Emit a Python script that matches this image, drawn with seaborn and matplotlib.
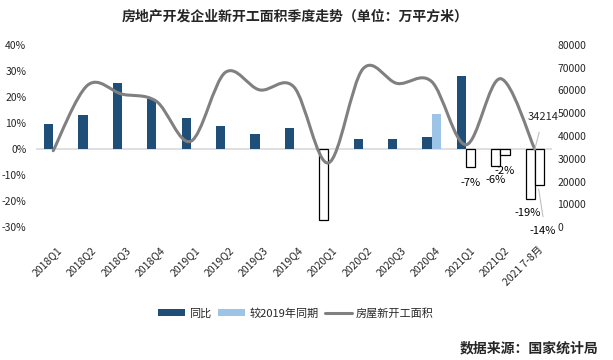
import numpy as np
import pandas as pd
import matplotlib
matplotlib.use("Agg")
import matplotlib.pyplot as plt
import matplotlib.transforms as mtransforms
from matplotlib.path import Path
from matplotlib.patches import PathPatch, Patch
from matplotlib.lines import Line2D
import seaborn as sns

# ---------------- data ----------------
categories = ["2018Q1", "2018Q2", "2018Q3", "2018Q4", "2019Q1", "2019Q2", "2019Q3",
              "2019Q4", "2020Q1", "2020Q2", "2020Q3", "2020Q4", "2021Q1", "2021Q2",
              "2021 7-8月"]
yoy = [9.7, 13.1, 25.4, 19.3, 11.9, 8.8, 5.7, 8.1, -27.3, 3.8, 3.8, 4.6, 28.1, -6.4, -19.3]
vs2019 = [np.nan] * 11 + [13.4, -6.8, -2.4, -13.8]
area = [33566, 62251, 58343, 55182, 37690, 67819, 60198, 61447,
        28203, 69333, 63024, 63873, 36163, 65125, 34214]
series_names = ["同比", "较2019年同期", "房屋新开工面积"]
left_ticks = [-30, -20, -10, 0, 10, 20, 30, 40]
right_ticks = [0, 10000, 20000, 30000, 40000, 50000, 60000, 70000, 80000]

DARK = "#1F4E79"
LIGHT = "#9DC3E6"
GRAY = "#808080"
FONT = ["Noto Sans CJK SC", "DejaVu Sans"]

sns.set_theme(style="white")
plt.rcParams["font.family"] = FONT
plt.rcParams["axes.unicode_minus"] = False

fig = plt.figure(figsize=(6.13, 3.60), dpi=100)
ax = fig.add_axes([36 / 613, 1 - 227.3 / 360, (552 - 36) / 613, (227.3 - 44.7) / 360])

df = pd.DataFrame({
    "cat": categories * 2,
    "val": yoy + vs2019,
    "series": [series_names[0]] * len(categories) + [series_names[1]] * len(categories),
})
sns.barplot(data=df, x="cat", y="val", hue="series", order=categories,
            hue_order=series_names[:2], palette=[DARK, LIGHT], width=0.54,
            dodge=True, saturation=1, legend=False, ax=ax, errorbar=None, zorder=2)

for p in ax.patches:
    h = p.get_height()
    if np.isfinite(h) and h < 0:
        p.set_facecolor("white")
        p.set_edgecolor("black")
        p.set_linewidth(0.9)
    else:
        p.set_linewidth(0)

ax.set_xlim(-0.5, len(categories) - 0.5)
ax.set_ylim(-30, 40)
ax.set_yticks(left_ticks)
ax.set_yticklabels([f"{t}%" for t in left_ticks], fontsize=7.5)
ax.axhline(0, color="#D9D9D9", lw=1.2, zorder=1)
ax.set_xlabel("")
ax.set_ylabel("")
for s in ax.spines.values():
    s.set_visible(False)
ax.tick_params(axis="y", length=0, pad=7)
ax.tick_params(axis="x", length=0, pad=15)
ax.set_xticks(range(len(categories)))
ax.set_xticklabels(categories, rotation=45, ha="right", va="center",
                   rotation_mode="anchor", fontsize=7.5)
shift = mtransforms.ScaledTranslation(5 / 72, 0, fig.dpi_scale_trans)
for lab in ax.get_xticklabels():
    lab.set_transform(lab.get_transform() + shift)

# value labels for negative bars
offsets = {
    ("较2019年同期", 12): (0, -12), ("同比", 13): (0, -10),
    ("较2019年同期", 13): (0, -11), ("同比", 14): (-2, -10),
    ("较2019年同期", 14): (2, -33),
}
dodge_off = {"同比": -0.135, "较2019年同期": 0.135}
for (name, i), (dx, dy) in offsets.items():
    v = yoy[i] if name == "同比" else vs2019[i]
    ax.annotate(f"{v:.0f}%", xy=(i + dodge_off[name], v), xytext=(dx, dy),
                textcoords="offset points", ha="center", va="center", fontsize=8,
                color="black", zorder=5)
# leader line for -14%
ax.annotate("", xy=(14 + 0.1, vs2019[14] - 0.5), xytext=(14 + 0.25, -27),
            arrowprops=dict(arrowstyle="-", color="#BFBFBF", lw=0.8))

# ---------------- smoothed line on secondary axis ----------------
ax2 = ax.twinx()
ax2.set_ylim(0, 80000)
ax2.set_xlim(-0.5, len(categories) - 0.5)
ax2.set_yticks(right_ticks)
ax2.set_yticklabels([str(t) for t in right_ticks], fontsize=7.5)
ax2.tick_params(axis="y", length=0, pad=4)
for s in ax2.spines.values():
    s.set_visible(False)
ax2.grid(False)

xs = np.arange(len(area), dtype=float)
ys = np.array(area, dtype=float)
pts = np.column_stack([xs, ys])
verts = [tuple(pts[0])]
codes = [Path.MOVETO]
n = len(pts)
for i in range(n - 1):
    p0 = pts[i - 1] if i > 0 else pts[i]
    p1 = pts[i]
    p2 = pts[i + 1]
    p3 = pts[i + 2] if i + 2 < n else pts[i + 1]
    c1 = p1 + (p2 - p0) / 6.0
    c2 = p2 - (p3 - p1) / 6.0
    verts += [tuple(c1), tuple(c2), tuple(p2)]
    codes += [Path.CURVE4] * 3
ax2.add_patch(PathPatch(Path(verts, codes), fill=False, edgecolor=GRAY, lw=2.2,
                        capstyle="round", joinstyle="round", zorder=3))

ax2.annotate(f"{area[-1]}", xy=(14, area[-1]), xytext=(6, 23),
             textcoords="offset points", ha="center", va="center", fontsize=8,
             arrowprops=dict(arrowstyle="-", color="#BFBFBF", lw=0.8, shrinkA=5, shrinkB=0))

# ---------------- title, legend, source ----------------
fig.text(295 / 613, 1 - 17 / 360, "房地产开发企业新开工面积季度走势（单位：万平方米）",
         ha="center", va="center", fontsize=10, fontweight="bold")

handles = [Patch(facecolor=DARK, edgecolor="none"),
           Patch(facecolor=LIGHT, edgecolor="none"),
           Line2D([0], [0], color=GRAY, lw=2.2)]
fig.legend(handles, series_names, loc="center", bbox_to_anchor=(296 / 613, 1 - 313 / 360),
           ncol=3, frameon=False, fontsize=8, handlelength=2.4, handleheight=0.6,
           columnspacing=0.6, handletextpad=0.4)

fig.text(598 / 613, 1 - 348 / 360, "数据来源：国家统计局", ha="right", va="center",
         fontsize=10, fontweight="bold")

fig.savefig("out.png", dpi=100)
